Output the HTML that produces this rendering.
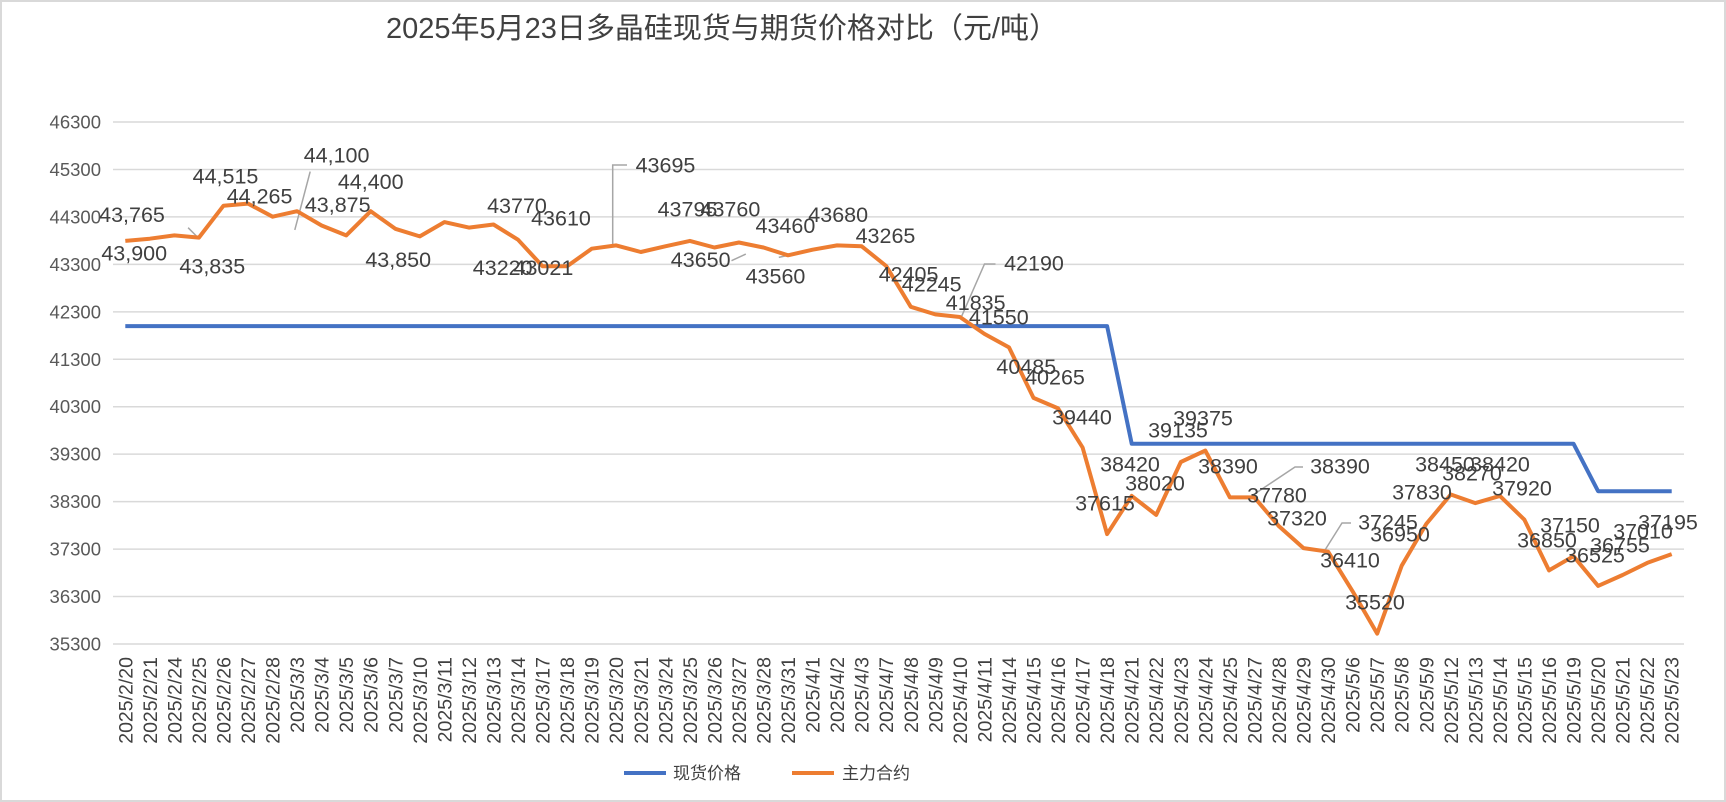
<!DOCTYPE html>
<html><head><meta charset="utf-8"><style>
html,body{margin:0;padding:0;background:#fff}
svg{display:block;font-family:"Liberation Sans","Noto Sans CJK SC",sans-serif}
</style></head><body>
<svg id="c" width="1726" height="802" xmlns="http://www.w3.org/2000/svg">
<rect x="1" y="1" width="1724" height="800" fill="#fff" stroke="#d9d9d9" stroke-width="2"/>
<text x="722" y="38" font-size="29" fill="#404040" text-anchor="middle">2025年5月23日多晶硅现货与期货价格对比（元/吨）</text>
<g id="g"></g>
<line x1="624" y1="773" x2="666" y2="773" stroke="#4472C4" stroke-width="4"/>
<text x="673" y="779" font-size="17" fill="#404040">现货价格</text>
<line x1="792" y1="773" x2="834" y2="773" stroke="#ED7D31" stroke-width="4"/>
<text x="842" y="779" font-size="17" fill="#404040">主力合约</text>
</svg>
<script>
var dates="2/20 2/21 2/24 2/25 2/26 2/27 2/28 3/3 3/4 3/5 3/6 3/7 3/10 3/11 3/12 3/13 3/14 3/17 3/18 3/19 3/20 3/21 3/24 3/25 3/26 3/27 3/28 3/31 4/1 4/2 4/3 4/7 4/8 4/9 4/10 4/11 4/14 4/15 4/16 4/17 4/18 4/21 4/22 4/23 4/24 4/25 4/27 4/28 4/29 4/30 5/6 5/7 5/8 5/9 5/12 5/13 5/14 5/15 5/16 5/19 5/20 5/21 5/22 5/23".split(" ");
var o=[43795,43840,43910,43864,44537,44580,44305,44420,44120,43910,44420,44050,43890,44190,44075,44140,43820,43260,43260,43630,43700,43560,43680,43795,43655,43760,43655,43490,43610,43700,43680,43265,42405,42245,42190,41835,41550,40485,40265,39440,37615,38420,38020,39135,39375,38390,38390,37780,37320,37245,36410,35520,36950,37830,38450,38270,38420,37920,36850,37150,36525,36755,37010,37195];
var b=[];for(var i=0;i<64;i++)b.push(i<=40?42000:(i<=59?39520:38520));
var L=113,R=1684,T=122,B=644,st=(R-L)/64;
function X(i){return L+st*(i+0.5)}function Y(v){return T+(46300-v)/11000*(B-T)}
var s="";
for(var k=0;k<=11;k++){var y=T+k*(B-T)/11;s+='<line x1="'+L+'" y1="'+y+'" x2="'+R+'" y2="'+y+'" stroke="#d9d9d9" stroke-width="1.5"/>';
s+='<text x="101" y="'+(y+6.5)+'" font-size="18.5" fill="#595959" text-anchor="end">'+(46300-k*1000)+'</text>';}
for(var i=0;i<64;i++){var x=X(i)+7;s+='<text transform="translate('+x+',657) rotate(-90)" font-size="19.5" fill="#404040" text-anchor="end">2025/'+dates[i]+'</text>';}
function pl(a,c){var p=a.map(function(v,i){return X(i).toFixed(1)+","+Y(v).toFixed(1)}).join(" ");return '<polyline points="'+p+'" fill="none" stroke="'+c+'" stroke-width="4" stroke-linejoin="round"/>';}
var f=1.1;
var lead=[[171,207,180,216],[268,209,282,156],[557,222,557,150,570,150],[665,237,678,231],[708,234,735,228],[874,288,895,240,905,240]];
lead.forEach(function(l){var p=[];for(var j=0;j<l.length;j+=2)p.push((l[j]*f).toFixed(1)+","+(l[j+1]*f).toFixed(1));s+='<polyline points="'+p.join(" ")+'" fill="none" stroke="#a6a6a6" stroke-width="1.5"/>';});
s+='<polyline points="1253,495 1295,467 1303,467" fill="none" stroke="#a6a6a6" stroke-width="1.5"/>';
s+='<polyline points="1325,550 1342,523 1351,523" fill="none" stroke="#a6a6a6" stroke-width="1.5"/>';
s+=pl(b,"#4472C4")+pl(o,"#ED7D31");
var labs=[["43,765",120,195],["43,900",122,230],["44,515",205,160],["43,835",193,242],["44,265",236,178],["44,100",306,141],["44,400",337,165],["43,875",307,186],["43,850",362,236],["43770",470,187],["43220",457,243],["43021",494,243],["43610",510,198],["43695",605,150],["43795",625,190],["43760",664,190],["43650",637,236],["43460",714,205],["43560",705,251],["43680",762,195],["43265",805,214],["42405",826,249],["42245",847,258],["42190",940,239],["41835",887,275],["41550",908,288],["40485",933,333]];
labs.forEach(function(l){s+='<text x="'+(l[1]*f).toFixed(1)+'" y="'+(l[2]*f+7.5).toFixed(1)+'" font-size="21.5" fill="#404040" text-anchor="middle">'+l[0]+'</text>';});
var labs2=[["40265",1055,377],["39440",1082,417],["37615",1105,503],["38420",1130,464],["38020",1155,483],["39135",1178,430],["39375",1203,418],["38390",1228,466],["37780",1277,495],["37320",1297,518],["38390",1340,466],["37245",1388,522],["36950",1400,534],["36410",1350,560],["35520",1375,602],["37830",1422,492],["38450",1445,464],["38420",1500,464],["38270",1472,473],["37920",1522,488],["37150",1570,525],["36850",1547,540],["36525",1595,555],["36755",1620,545],["37010",1643,531],["37195",1668,522]];
labs2.forEach(function(l){s+='<text x="'+l[1]+'" y="'+(l[2]+7.5)+'" font-size="21.5" fill="#404040" text-anchor="middle">'+l[0]+'</text>';});
document.getElementById("g").innerHTML=s;
</script>
</body></html>
